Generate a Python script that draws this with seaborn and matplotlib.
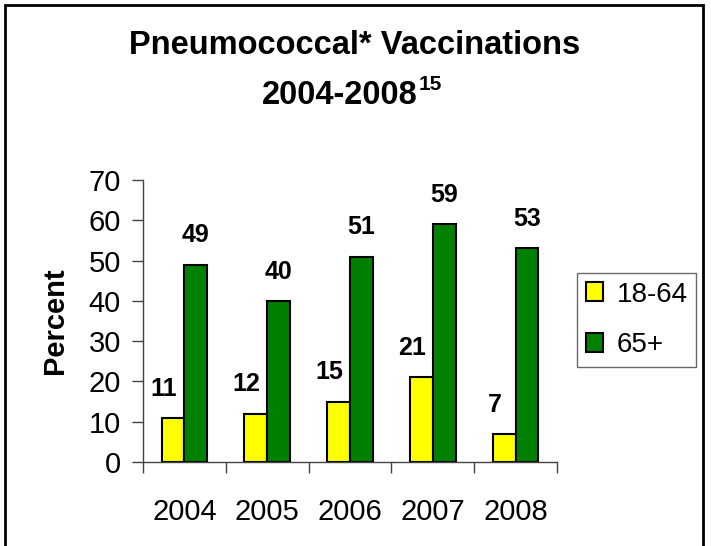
import matplotlib
matplotlib.use("Agg")
import matplotlib.pyplot as plt
import seaborn as sns
import pandas as pd
from matplotlib.patches import Rectangle

years = ["2004", "2005", "2006", "2007", "2008"]
groups = ["18-64", "65+"]
vals_18_64 = [11, 12, 15, 21, 7]
vals_65 = [49, 40, 51, 59, 53]
colors = ["#FFFF00", "#008000"]

df = pd.DataFrame({
    "Year": years * 2,
    "Group": [groups[0]] * 5 + [groups[1]] * 5,
    "Percent": vals_18_64 + vals_65,
})

sns.set_theme(style="white")
plt.rcParams["font.family"] = ["Liberation Sans", "DejaVu Sans"]
plt.rcParams["text.color"] = "black"
plt.rcParams["axes.labelcolor"] = "black"
plt.rcParams["xtick.color"] = "black"
plt.rcParams["ytick.color"] = "black"

fig = plt.figure(figsize=(7.11, 5.46), dpi=100)
ax = fig.add_axes([143/711, 1-462/546, (557-143)/711, (462-180)/546])

sns.barplot(data=df, x="Year", y="Percent", hue="Group", palette=colors,
            ax=ax, width=0.55, gap=0, edgecolor="black", linewidth=1.5,
            saturation=1, legend=True)

ax.set_ylim(0, 70)
ax.set_xlim(-0.5, 4.5)
ax.set_yticks(range(0, 71, 10))
ax.tick_params(axis="y", labelsize=21, length=8, width=1, color="#444444",
               labelcolor="black", direction="out", left=True, pad=8)
ax.set_xticks(range(5))
ax.set_xticklabels(years)
ax.tick_params(axis="x", which="major", length=0, labelsize=21, labelcolor="black", pad=26)
ax.set_xticks([i - 0.5 for i in range(6)], minor=True)
ax.tick_params(axis="x", which="minor", length=8, width=1, color="#444444", bottom=True, direction="out")
for s in ["top", "right"]:
    ax.spines[s].set_visible(False)
for s in ["left", "bottom"]:
    ax.spines[s].set_color("#444444")
    ax.spines[s].set_linewidth(1)
ax.set_xlabel("")
ax.set_ylabel("Percent", fontsize=21, fontweight="bold", labelpad=14, color="black")

for cont, dx in zip(ax.containers, [-6.5, 0]):
    for bar, v in zip(cont, cont.datavalues):
        ax.annotate(f"{int(v)}", (bar.get_x() + bar.get_width()/2, bar.get_height()),
                    xytext=(dx, 21), textcoords="offset points",
                    ha="center", va="center", fontsize=18, fontweight="bold",
                    color="black")

leg = ax.legend(loc="center left", bbox_to_anchor=(577/711, 1-320/546),
                bbox_transform=fig.transFigure, frameon=True, fontsize=20,
                handlelength=0.6, handleheight=0.65, handletextpad=0.5,
                labelspacing=0.9, borderpad=0.32, borderaxespad=0,
                fancybox=False, title=None)
leg.get_frame().set_edgecolor("#444444")
leg.get_frame().set_linewidth(1)
for t in leg.get_texts():
    t.set_color("black")

fig.text(355/711, 1-45/546, "Pneumococcal* Vaccinations", ha="center", va="center",
         fontsize=23.5, fontweight="bold")
fig.text(340/711, 1-95/546, "2004-2008", ha="center", va="center",
         fontsize=23.5, fontweight="bold")
fig.text(419/711, 1-84/546, "15", ha="left", va="center",
         fontsize=15, fontweight="bold")

fig.patches.append(Rectangle((5/711, -0.05), 698/711, 1-5/546+0.05,
                             transform=fig.transFigure, fill=False,
                             edgecolor="black", linewidth=2))

fig.savefig("out.png", dpi=100)
